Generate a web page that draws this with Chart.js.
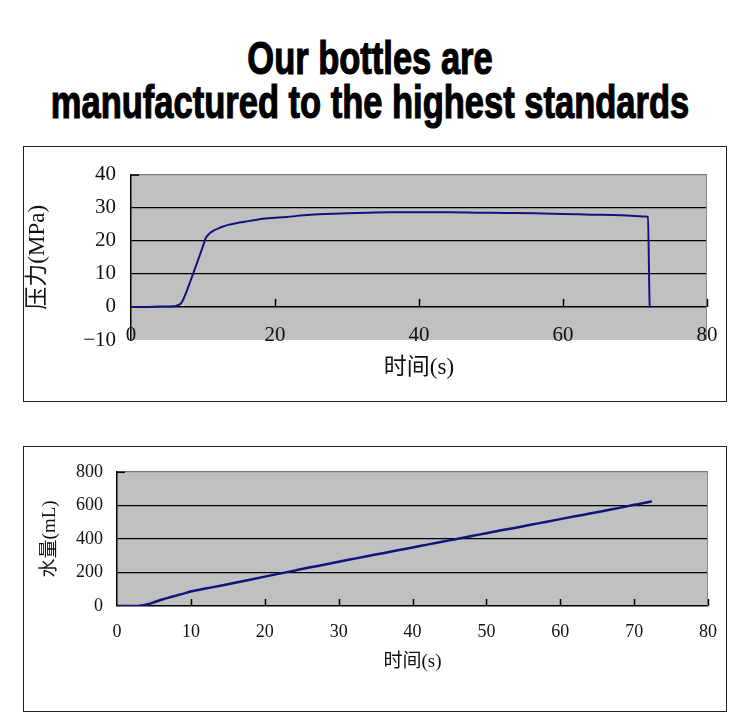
<!DOCTYPE html>
<html><head><meta charset="utf-8">
<script src="https://cdn.jsdelivr.net/npm/chart.js@4.4.1/dist/chart.umd.min.js"></script>
<style>
html,body{margin:0;padding:0;background:#fff;}
body{width:750px;height:728px;position:relative;overflow:hidden;}
.head{position:absolute;left:-205px;width:1150px;text-align:center;font-family:'Liberation Sans Narrow','Liberation Sans',sans-serif;font-weight:bold;font-size:46px;line-height:46px;color:#000;white-space:nowrap;transform:scaleX(0.75);transform-origin:575px 0;-webkit-text-stroke:1.2px #000;}
#h1{top:35px;}
#h2{top:79px;}
.box{position:absolute;left:23px;width:704px;border:1px solid #222;box-sizing:border-box;background:#fff;}
#box1{top:146px;height:256px;}
#box2{top:446px;height:266px;}
canvas{display:block;}
</style></head>
<body>
<div class="head" id="h1">Our bottles are</div>
<div class="head" id="h2">manufactured to the highest standards</div>
<div class="box" id="box1"><canvas id="c1" width="702" height="254"></canvas></div>
<div class="box" id="box2"><canvas id="c2" width="702" height="264"></canvas></div>
<script>
// ---- Data: pressure test (top chart) ----
const pressureTime = [0, 2, 4, 6, 6.5, 7.0, 7.5, 8.0, 8.5, 9.0, 9.5, 10.0, 10.4, 10.8, 11.4, 12.4, 13.5, 15, 17, 19, 21.6, 24, 26, 28, 30, 33, 36, 40, 44, 48, 52, 56, 60, 64, 68, 70, 71.5, 71.8, 72.05, 72.25];
const pressureValues = [0, 0, 0.1, 0.2, 0.5, 1.2, 3.5, 6.3, 9.3, 12.3, 15.3, 18.4, 20.9, 22.0, 23.0, 24.0, 24.8, 25.5, 26.2, 26.8, 27.2, 27.7, 28.0, 28.2, 28.3, 28.5, 28.6, 28.6, 28.6, 28.5, 28.4, 28.3, 28.1, 27.9, 27.7, 27.5, 27.3, 27.2, 0.3, 0];
// ---- Data: water volume (bottom chart) ----
const waterTime = [0, 1, 2, 2.8, 3, 4, 5, 6, 7, 8, 9, 10, 12, 14, 16, 18, 20, 22, 24, 26, 28, 30, 32, 34, 36, 38, 40, 42, 44, 46, 48, 50, 52, 54, 56, 58, 60, 62, 64, 66, 68, 70, 72, 72.4];
const waterValues = [0, 0, 0, 0, 1, 9, 22, 37, 50, 62, 74, 86, 104, 121, 139, 157, 175, 193, 211, 229, 246, 264, 281, 298, 315, 332, 349, 366, 383, 400, 417, 434, 451, 467, 484, 501, 518, 535, 551, 568, 585, 603, 620, 624];
// ---- Axis labels ----
const xTitle1 = '时间(s)';
const yTitle1 = '压力(MPa)';
const xTitle2 = '时间(s)';
const yTitle2 = '水量(mL)';

const framePlugin = {
  id: 'frame',
  beforeDraw(chart, args, opts) {
    const {ctx, chartArea: a} = chart;
    ctx.save();
    ctx.fillStyle = '#c0c0c0';
    ctx.fillRect(a.left, a.top, a.right - a.left, a.bottom - a.top);
    ctx.restore();
  },
  beforeDatasetsDraw(chart, args, opts) {
    const {ctx, chartArea: a, scales: {x, y}} = chart;
    ctx.save();
    ctx.strokeStyle = '#8a8a8a';
    ctx.lineWidth = 1;
    ctx.beginPath();
    ctx.moveTo(a.right - 0.5, a.top);
    ctx.lineTo(a.right - 0.5, a.bottom);
    ctx.stroke();
    const y0 = y.getPixelForValue(0);
    ctx.strokeStyle = '#000';
    ctx.lineWidth = 1.5;
    x.ticks.forEach(t => {
      if (t.value === 0) return;
      const px = Math.round(x.getPixelForValue(t.value)) + 0.5;
      ctx.beginPath();
      ctx.moveTo(px, y0);
      ctx.lineTo(px, y0 - opts.tickLen);
      ctx.stroke();
    });
    const yt = a.top + 0.5;
    ctx.beginPath();
    ctx.moveTo(a.left, yt);
    ctx.lineTo(a.left + 8, yt);
    ctx.stroke();
    ctx.restore();
  }
};

const serif = "'Liberation Serif', 'Times New Roman', serif";
const cjk = "'Liberation Serif', 'Noto Sans CJK SC', serif";

function makeChart(id, times, values, cfg) {
  return new Chart(document.getElementById(id), {
    type: 'line',
    data: {
      datasets: [{
        data: times.map((t, i) => ({x: t, y: values[i]})),
        borderColor: '#12127f',
        borderWidth: cfg.lw,
        pointRadius: 0,
        cubicInterpolationMode: 'monotone',
        fill: false
      }]
    },
    options: {
      responsive: false,
      animation: false,
      devicePixelRatio: 1,
      layout: {padding: cfg.pad},
      plugins: {
        legend: {display: false},
        tooltip: {enabled: false},
        frame: {tickLen: cfg.tickLen}
      },
      scales: {
        x: {
          type: 'linear',
          min: cfg.xMin, max: cfg.xMax,
          afterFit(s) { s.height = cfg.xH; },
          border: {display: false},
          grid: {display: false, drawTicks: false},
          ticks: {stepSize: cfg.xStep, padding: cfg.xPad, mirror: true, color: '#111', maxRotation: 0, autoSkip: false,
                  font: {family: serif, size: cfg.tickSize}},
          title: {display: true, text: cfg.xTitle, color: '#111', padding: {top: 0, bottom: cfg.xTitlePad},
                  font: {family: cjk, size: cfg.titleSize}}
        },
        y: {
          min: cfg.yMin, max: cfg.yMax,
          afterFit(s) { s.width = cfg.yW; },
          border: {display: true, color: '#000', width: 1.5},
          grid: {
            drawTicks: false,
            color: c => (c.tick.value === cfg.yMax ? '#7a7a7a' : (c.tick.value < 0 ? 'rgba(0,0,0,0)' : '#000')),
            lineWidth: c => (c.tick.value === 0 ? 1.5 : 1.2)
          },
          ticks: {stepSize: cfg.yStep, padding: cfg.yPad, color: '#111',
                  font: {family: serif, size: cfg.tickSize},
                  callback: v => (v < 0 ? '\u2212' + Math.abs(v) : String(v))},
          title: {display: true, text: cfg.yTitle, color: '#111', padding: {top: cfg.yTitlePad, bottom: 0},
                  font: {family: cjk, size: cfg.titleSize}}
        }
      }
    },
    plugins: [framePlugin]
  });
}

makeChart('c1', pressureTime, pressureValues, {
  lw: 2, pad: {left: 0, top: 21, right: 19, bottom: 0},
  xMin: 0, xMax: 80, xStep: 20, yMin: -10, yMax: 40, yStep: 10,
  xH: 61, yW: 107, xPad: -7.6, yPad: 15, tickSize: 21, titleSize: 23,
  xTitle: xTitle1, yTitle: yTitle1, xTitlePad: 19, yTitlePad: 0, tickLen: 8
});

makeChart('c2', waterTime, waterValues, {
  lw: 2.5, pad: {left: 0, top: 14, right: 18, bottom: 0},
  xMin: 0, xMax: 80, xStep: 10, yMin: 0, yMax: 800, yStep: 200,
  xH: 105, yW: 93, xPad: -36.8, yPad: 14, tickSize: 18, titleSize: 19,
  xTitle: xTitle2, yTitle: yTitle2, xTitlePad: 37.6, yTitlePad: 14.6, tickLen: 7
});
</script>
</body></html>
